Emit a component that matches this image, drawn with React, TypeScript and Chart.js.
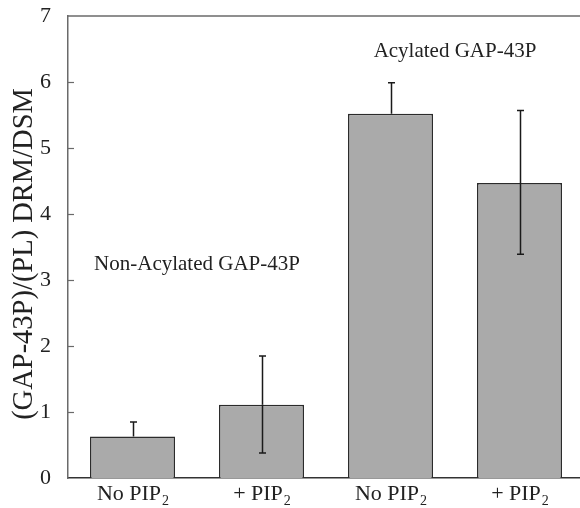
import React, { useEffect, useRef } from "react";
import { Chart, registerables } from "chart.js";

Chart.register(...registerables);

// ---- data ----
const categories = ["No PIP₂", "+ PIP₂", "No PIP₂", "+ PIP₂"];
const values = [0.63, 1.11, 5.52, 4.47];
const errorUpper = [0.85, 1.85, 5.99, 5.57];
const errorLower: (number | null)[] = [null, 0.38, null, 3.39];
const yTicks = [0, 1, 2, 3, 4, 5, 6, 7];
const groupLabels = ["Non-Acylated GAP-43P", "Acylated GAP-43P"];
const yTitle = "(GAP-43P)/(PL) DRM/DSM";

const SERIF = '"Liberation Serif", "Times New Roman", Times, serif';

const overlayPlugin = {
  id: "overlay",
  afterDatasetsDraw(chart: any, _args: any, opts: any) {
    const ctx = chart.ctx as CanvasRenderingContext2D;
    const xs = chart.scales.x;
    const ys = chart.scales.y;
    const area = chart.chartArea;
    ctx.save();

    // top frame line
    ctx.strokeStyle = "#6a6a6a";
    ctx.lineWidth = 1.5;
    ctx.beginPath();
    ctx.moveTo(area.left, area.top);
    ctx.lineTo(area.right, area.top);
    ctx.stroke();

    // inward tick marks on the y axis
    ctx.lineWidth = 1.2;
    yTicks.forEach((t) => {
      if (t === yTicks[0] || t === yTicks[yTicks.length - 1]) return;
      const py = Math.round(ys.getPixelForValue(t)) + 0.5;
      ctx.beginPath();
      ctx.moveTo(area.left, py);
      ctx.lineTo(area.left + 6, py);
      ctx.stroke();
    });

    // error bars
    ctx.strokeStyle = "#1a1a1a";
    ctx.lineWidth = 1.5;
    const cap = 3.5;
    values.forEach((v, i) => {
      const cx = Math.round(xs.getPixelForValue(i)) + 0.5;
      const yv = ys.getPixelForValue(v);
      const ends = [errorUpper[i], errorLower[i]];
      ends.forEach((e) => {
        if (e == null) return;
        const ye = ys.getPixelForValue(e);
        ctx.beginPath();
        ctx.moveTo(cx, yv);
        ctx.lineTo(cx, ye);
        ctx.moveTo(cx - cap, ye);
        ctx.lineTo(cx + cap, ye);
        ctx.stroke();
      });
    });

    // group annotations
    ctx.fillStyle = "#222";
    ctx.font = `21px ${SERIF}`;
    ctx.textAlign = "center";
    ctx.textBaseline = "middle";
    (opts.positions || []).forEach((p: any, i: number) => {
      ctx.fillText(groupLabels[i], xs.getPixelForValue(p.x), ys.getPixelForValue(p.y));
    });

    // y axis title
    ctx.save();
    ctx.translate(opts.titleX, (area.top + area.bottom) / 2 + opts.titleShift);
    ctx.rotate(-Math.PI / 2);
    ctx.font = `28.5px ${SERIF}`;
    ctx.textAlign = "center";
    ctx.textBaseline = "middle";
    ctx.fillText(yTitle, 0, 0);
    ctx.restore();

    // x tick labels with subscript
    const base = area.bottom + 22;
    categories.forEach((lab, i) => {
      const cx = xs.getPixelForValue(i);
      const parts = lab.split("₂");
      const main = parts[0];
      const hasSub = parts.length > 1;
      ctx.font = `22px ${SERIF}`;
      const wMain = ctx.measureText(main).width;
      ctx.font = `14px ${SERIF}`;
      const wSub = hasSub ? ctx.measureText("2").width : 0;
      const start = cx - (wMain + wSub) / 2;
      ctx.textAlign = "left";
      ctx.textBaseline = "alphabetic";
      ctx.font = `22px ${SERIF}`;
      ctx.fillText(main, start, base);
      if (hasSub) {
        ctx.font = `14px ${SERIF}`;
        ctx.fillText("2", start + wMain + 1, base + 5);
      }
    });

    ctx.restore();
  },
};

export default function App() {
  const ref = useRef<HTMLCanvasElement | null>(null);

  useEffect(() => {
    if (!ref.current) return;
    const chart = new Chart(ref.current, {
      type: "bar",
      data: {
        labels: categories,
        datasets: [
          {
            data: values,
            backgroundColor: "#aaaaaa",
            borderColor: "#2b2b2b",
            borderWidth: 1.5,
            barPercentage: 0.659,
            categoryPercentage: 1,
          },
        ],
      },
      options: {
        responsive: false,
        animation: false,
        layout: { padding: { top: 16, left: 0, right: 0, bottom: 0 } },
        plugins: {
          legend: { display: false },
          tooltip: { enabled: false },
          overlay: {
            positions: [
              { x: 0.5, y: 3.23 },
              { x: 2.5, y: 6.46 },
            ],
            titleX: 25,
            titleShift: 7,
          },
        } as any,
        scales: {
          x: {
            type: "category",
            offset: true,
            grid: { display: false },
            border: { display: true, color: "#333", width: 1.5 },
            ticks: { display: false },
            afterFit: (s: any) => {
              s.height = 30;
              s.paddingLeft = 0;
              s.paddingRight = 0;
            },
          },
          y: {
            min: 0,
            max: 7,
            grid: { display: false },
            border: { display: true, color: "#6a6a6a", width: 1.5 },
            ticks: {
              stepSize: 1,
              padding: 9,
              color: "#222",
              font: { family: SERIF, size: 22 },
            },
            afterFit: (s: any) => {
              s.width = 68;
              s.paddingTop = 0;
              s.paddingBottom = 0;
            },
          },
        },
      },
      plugins: [overlayPlugin],
    });
    return () => chart.destroy();
  }, []);

  return (
    <div
      style={{
        position: "fixed",
        left: 0,
        top: 0,
        width: 580,
        height: 508,
        overflow: "hidden",
        background: "#fff",
      }}
    >
      <canvas ref={ref} width={584} height={508} style={{ display: "block" }} />
    </div>
  );
}
